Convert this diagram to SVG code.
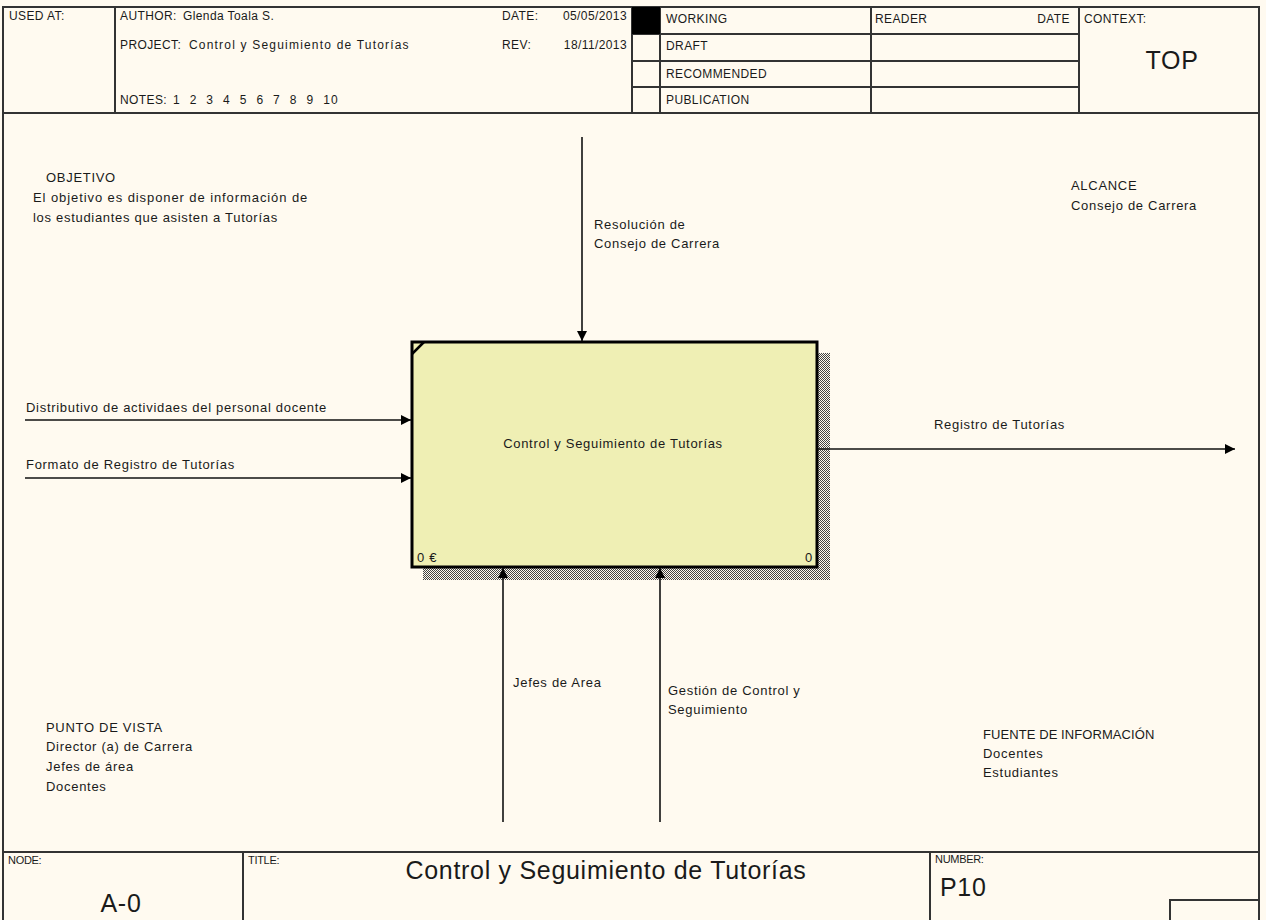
<svg xmlns="http://www.w3.org/2000/svg" width="1266" height="920" viewBox="0 0 1266 920">
<defs>
<style>
text{font-family:"Liberation Sans",Arial,sans-serif;fill:#1a1a1a;}
.t{font-size:13px;letter-spacing:0.7px;}
.h{font-size:12px;letter-spacing:0.4px;}
.s{font-size:11px;letter-spacing:-0.3px;}
.big{font-size:25px;letter-spacing:0.7px;}
.frame{stroke:#333;stroke-width:2;fill:none;}
.conn{stroke:#111;stroke-width:1.6;fill:none;marker-end:url(#ah);}
</style>
<marker id="ah" viewBox="0 0 10 10" refX="10" refY="5" markerWidth="12" markerHeight="10" orient="auto" markerUnits="userSpaceOnUse">
<path d="M0,0 L10,5 L0,10 z" fill="#000"/>
</marker>
<pattern id="hatch" width="2" height="2" patternUnits="userSpaceOnUse">
<rect width="2" height="2" fill="#fffaf0"/>
<rect x="0" y="0" width="1" height="1" fill="#444"/>
<rect x="1" y="1" width="1" height="1" fill="#444"/>
</pattern>
</defs>
<rect width="1266" height="920" fill="#fffaf0"/>

<g id="frame">
<rect x="3" y="7" width="1256" height="920" class="frame"/>
<line x1="3" y1="113" x2="1259" y2="113" class="frame"/>
<line x1="115" y1="7" x2="115" y2="113" class="frame"/>
<line x1="632" y1="7" x2="632" y2="113" class="frame"/>
<line x1="660" y1="7" x2="660" y2="113" class="frame"/>
<line x1="871" y1="7" x2="871" y2="113" class="frame"/>
<line x1="1079" y1="7" x2="1079" y2="113" class="frame"/>
<line x1="632" y1="34" x2="1079" y2="34" class="frame"/>
<line x1="632" y1="61" x2="1079" y2="61" class="frame"/>
<line x1="632" y1="87" x2="1079" y2="87" class="frame"/>
<rect x="632" y="7" width="28" height="27" fill="#000"/>
<line x1="3" y1="852" x2="1259" y2="852" class="frame"/>
<line x1="243" y1="852" x2="243" y2="920" class="frame"/>
<line x1="930" y1="852" x2="930" y2="920" class="frame"/>
<rect x="1170" y="900" width="89" height="25" class="frame"/>
</g>

<g id="header-text">
<text class="h" x="9" y="20">USED AT:</text>
<text class="h" x="120" y="20">AUTHOR:</text>
<text class="h" x="183" y="20">Glenda Toala S.</text>
<text class="h" x="120" y="49">PROJECT:</text>
<text class="h" x="189" y="49" textLength="220" lengthAdjust="spacing">Control y Seguimiento de Tutorías</text>
<text class="h" x="120" y="104">NOTES:</text>
<text class="h" x="173" y="104" xml:space="preserve" textLength="165" lengthAdjust="spacing">1  2  3  4  5  6  7  8  9  10</text>
<text class="h" x="502" y="20">DATE:</text>
<text class="h" x="627" y="20" text-anchor="end">05/05/2013</text>
<text class="h" x="502" y="49">REV:</text>
<text class="h" x="627" y="49" text-anchor="end">18/11/2013</text>
<text class="h" x="666" y="23">WORKING</text>
<text class="h" x="666" y="50">DRAFT</text>
<text class="h" x="666" y="78">RECOMMENDED</text>
<text class="h" x="666" y="104">PUBLICATION</text>
<text class="h" x="875" y="23">READER</text>
<text class="h" x="1070" y="23" text-anchor="end">DATE</text>
<text class="h" x="1084" y="23">CONTEXT:</text>
<text class="big" x="1172" y="69" text-anchor="middle">TOP</text>
</g>

<g id="footer-text">
<text class="s" x="8" y="864">NODE:</text>
<text class="big" x="121" y="912" text-anchor="middle">A-0</text>
<text class="s" x="248" y="864">TITLE:</text>
<text class="big" x="606" y="879" text-anchor="middle">Control y Seguimiento de Tutorías</text>
<text class="s" x="935" y="863">NUMBER:</text>
<text class="big" x="940" y="896">P10</text>
</g>

<g id="notes">
<text class="t" x="46" y="182">OBJETIVO</text>
<text class="t" x="33" y="202" textLength="275" lengthAdjust="spacing">El objetivo es disponer de información de</text>
<text class="t" x="33" y="222">los estudiantes que asisten a Tutorías</text>
<text class="t" x="1071" y="190">ALCANCE</text>
<text class="t" x="1071" y="210">Consejo de Carrera</text>
<text class="t" x="46" y="732">PUNTO DE VISTA</text>
<text class="t" x="46" y="751">Director (a) de Carrera</text>
<text class="t" x="46" y="771">Jefes de área</text>
<text class="t" x="46" y="791">Docentes</text>
<text class="t" x="983" y="739" textLength="172" lengthAdjust="spacing">FUENTE DE INFORMACIÓN</text>
<text class="t" x="983" y="758">Docentes</text>
<text class="t" x="983" y="777">Estudiantes</text>
</g>

<g id="node-A0">
<rect x="818" y="353" width="12" height="227" fill="url(#hatch)"/>
<rect x="423" y="567" width="407" height="13" fill="url(#hatch)"/>
<rect x="412" y="342" width="405" height="225" fill="#efefb4" stroke="#000" stroke-width="3"/>
<line x1="412" y1="354" x2="424" y2="342" stroke="#000" stroke-width="2.5"/>
<text class="t" x="613" y="448" text-anchor="middle">Control y Seguimiento de Tutorías</text>
<text class="t" x="417" y="562">0 €</text>
<text class="t" x="813" y="562" text-anchor="end">0</text>
</g>

<g id="connectors">
<line x1="582" y1="137" x2="582" y2="341" class="conn"/>
<line x1="25" y1="420" x2="411" y2="420" class="conn"/>
<line x1="25" y1="478" x2="411" y2="478" class="conn"/>
<line x1="818" y1="449" x2="1235" y2="449" class="conn"/>
<line x1="503" y1="822" x2="503" y2="568" class="conn"/>
<line x1="660" y1="822" x2="660" y2="568" class="conn"/>
</g>

<g id="connector-labels">
<text class="t" x="594" y="229">Resolución de</text>
<text class="t" x="594" y="248">Consejo de Carrera</text>
<text class="t" x="26" y="412">Distributivo de actividaes del personal docente</text>
<text class="t" x="26" y="469">Formato de Registro de Tutorías</text>
<text class="t" x="934" y="429">Registro de Tutorías</text>
<text class="t" x="513" y="687">Jefes de Area</text>
<text class="t" x="668" y="695">Gestión de Control y</text>
<text class="t" x="668" y="714">Seguimiento</text>
</g>
</svg>
